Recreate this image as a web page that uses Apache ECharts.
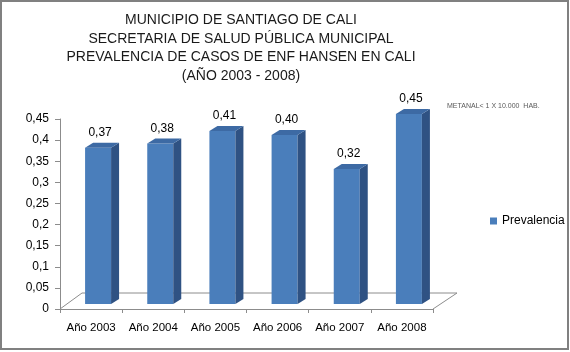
<!DOCTYPE html>
<html>
<head>
<meta charset="utf-8">
<script src="https://cdn.jsdelivr.net/npm/echarts@6/dist/echarts.min.js"></script>
<style>
html, body { margin: 0; padding: 0; background: #fff; }
#grafico { width: 570px; height: 352px; }
</style>
</head>
<body>
<div id="grafico"></div>
<script>
// datos del grafico
var categorias = ['Año 2003', 'Año 2004', 'Año 2005', 'Año 2006', 'Año 2007', 'Año 2008'];
var prevalencia = [0.37, 0.38, 0.41, 0.40, 0.32, 0.45];
var titulo = ['MUNICIPIO DE SANTIAGO DE CALI', 'SECRETARIA DE SALUD PÚBLICA MUNICIPAL', 'PREVALENCIA DE CASOS DE ENF HANSEN EN CALI', '(AÑO 2003 - 2008)'];
var nota = 'METANAL< 1 X 10.000  HAB.';
var ejeMin = 0, ejeMax = 0.45, ejeIntervalo = 0.05;

var fuente = '"Liberation Sans", Arial, sans-serif';

function conComa(v) {
    return String(Number(v.toFixed(2))).replace('.', ',');
}
function dosDecimales(v) {
    return v.toFixed(2).replace('.', ',');
}

// barra con efecto 3d (frente, lado y tapa)
function dibujarBarra(params, api) {
    var i = api.value(0), v = api.value(1);
    var arriba = api.coord([i, v]);
    var base = api.coord([i, 0]);
    var cs = params.coordSys;
    var ancho = 26, corr = 7, px = 8, py = 5;
    var x0 = arriba[0] + corr - ancho / 2, x1 = x0 + ancho;
    var yT = arriba[1] - py, yB = base[1] - py;
    var hijos = [];
    if (params.dataIndex === 0) {
        // piso
        var fy = cs.y + cs.height;
        hijos.push({
            type: 'polyline',
            shape: { points: [[cs.x, fy], [cs.x + 22, fy - 16], [cs.x + cs.width + 24, fy - 16], [cs.x + cs.width, fy]] },
            style: { stroke: '#8c8c8c', lineWidth: 1, fill: null }
        });
    }
    hijos.push({
        type: 'rect',
        shape: { x: x0, y: yT, width: ancho, height: yB - yT },
        style: { fill: '#4a7ebb' }
    });
    hijos.push({
        type: 'polygon',
        shape: { points: [[x1, yT], [x1 + px, yT - py], [x1 + px, yB - py], [x1, yB]] },
        style: { fill: '#2f5283' }
    });
    hijos.push({
        type: 'polygon',
        shape: { points: [[x0, yT], [x0 + px, yT - py], [x1 + px, yT - py], [x1, yT]] },
        style: { fill: '#3d6aa4' }
    });
    hijos.push({
        type: 'text',
        style: {
            text: dosDecimales(v), x: (x0 + x1) / 2 + 2, y: yT - py - 10,
            align: 'center', verticalAlign: 'middle', textAlign: 'center', textVerticalAlign: 'middle',
            fontSize: 12, fontFamily: fuente, fill: '#000'
        }
    });
    return { type: 'group', children: hijos };
}

var grafico = echarts.init(document.getElementById('grafico'));
var opcion = {
    animation: false,
    textStyle: { fontFamily: fuente },
    graphic: [
        {
            type: 'rect', shape: { x: 1, y: 1, width: 567, height: 348 },
            style: { fill: null, stroke: '#808080', lineWidth: 2 }
        },
        {
            type: 'text', x: 241, y: 11,
            style: {
                text: titulo.join('\n'), fontSize: 14, lineHeight: 18.6, fontFamily: fuente, fill: '#1a1a1a',
                align: 'center', verticalAlign: 'top', textAlign: 'center', textVerticalAlign: 'top'
            }
        },
        {
            type: 'text', x: 447, y: 106,
            style: {
                text: nota, fontSize: 7, fontFamily: fuente, fill: '#595959',
                verticalAlign: 'middle', textVerticalAlign: 'middle'
            }
        }
    ],
    legend: {
        left: 485, top: 210,
        itemWidth: 7, itemHeight: 7, itemGap: 4,
        textStyle: { fontSize: 12, color: '#000', fontFamily: fuente },
        data: [{ name: 'Prevalencia', icon: 'rect', itemStyle: { color: '#4a7ebb' } }]
    },
    grid: { left: 60, right: 137, top: 119, bottom: 43, containLabel: false },
    xAxis: {
        type: 'category',
        data: categorias,
        axisLine: { lineStyle: { color: '#8c8c8c' } },
        axisTick: { show: true, length: 4, lineStyle: { color: '#8c8c8c' } },
        axisLabel: { color: '#000', fontSize: 11.5, margin: 13, interval: 0 }
    },
    yAxis: {
        type: 'value',
        min: ejeMin, max: ejeMax, interval: ejeIntervalo,
        splitLine: { show: false },
        axisLine: { show: true, lineStyle: { color: '#8c8c8c' } },
        axisTick: { show: true, length: 5, lineStyle: { color: '#8c8c8c' } },
        axisLabel: { color: '#000', fontSize: 12, margin: 11, formatter: conComa }
    },
    series: [{
        name: 'Prevalencia',
        type: 'custom',
        renderItem: dibujarBarra,
        itemStyle: { color: '#4a7ebb' },
        encode: { x: 0, y: 1 },
        data: prevalencia.map(function (v, i) { return [i, v]; })
    }]
};
grafico.setOption(opcion);
</script>
</body>
</html>
